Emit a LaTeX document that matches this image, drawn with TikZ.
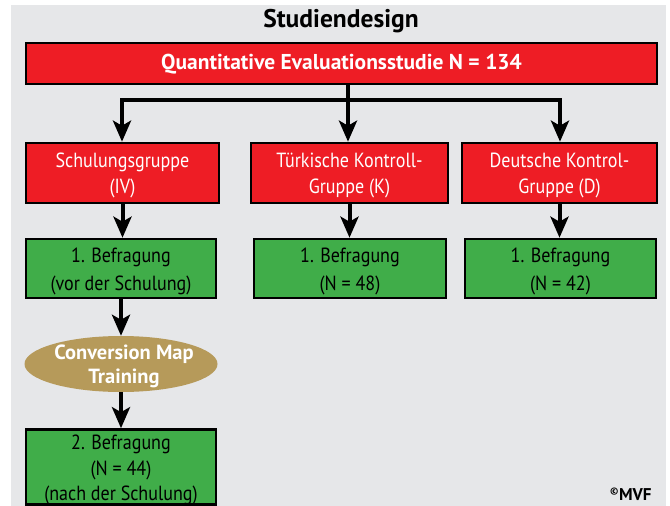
\documentclass[tikz,border=0pt]{standalone}
\usepackage{fontspec}
\setmainfont[FakeStretch=0.88]{PT Sans}
\newfontfamily\bsans{PT Sans}
\usetikzlibrary{arrows.meta,shapes.geometric}
\definecolor{bgray}{HTML}{E6E7E9}
\definecolor{bred}{HTML}{EE1D25}
\definecolor{bgreen}{HTML}{40AD49}
\definecolor{btan}{HTML}{B69A5A}
\tikzset{
  box/.style={draw=black, line width=2.6pt, inner sep=0pt},
  redbox/.style={box, fill=bred},
  greenbox/.style={box, fill=bgreen},
  txt/.style={align=center, inner sep=0pt, font=\fontsize{20.5}{26.5}\selectfont},
  wtxt/.style={txt, text=white},
  btxt/.style={txt, text=black},
  conn/.style={line width=4pt, black},
  arr/.style={conn, -{Stealth[length=21pt,width=18pt,inset=5pt]}}
}
\begin{document}
\begin{tikzpicture}[x=1pt,y=-1pt]
\useasboundingbox (0,0) rectangle (670,506);
\fill[white] (0,0) rectangle (670,506);
\fill[bgray] (11,5) rectangle (666,506);
\node[font=\bsans\bfseries\fontsize{25.5}{28}\selectfont] (title) at (341,21) {Studiendesign};
\node[redbox, minimum width=631pt, minimum height=41pt] (top) at (341.5,63.5) {};
\node[wtxt, font=\bsans\bfseries\fontsize{21.5}{24}\selectfont] (topt) at ([yshift=-1pt]top.center) {Quantitative Evaluationsstudie N = 134};
\node[redbox, minimum width=193pt, minimum height=60pt] (r1) at (122.5,173) {};
\node[wtxt] (r1t) at ([yshift=-2.5pt]r1.center) {Schulungsgruppe\\(IV)};
\node[redbox, minimum width=197pt, minimum height=60pt] (r2) at (349.5,173) {};
\node[wtxt] (r2t) at ([yshift=-2.5pt]r2.center) {Türkische Kontroll-\\Gruppe (K)};
\node[redbox, minimum width=195pt, minimum height=60pt] (r3) at (559.5,173) {};
\node[wtxt] (r3t) at ([yshift=-2.5pt]r3.center) {Deutsche Kontrol-\\Gruppe (D)};
\node[greenbox, minimum width=190pt, minimum height=59pt] (g1) at (121,268.5) {};
\node[btxt, font=\fontsize{20.5}{27.5}\selectfont] (g1t) at ([yshift=-3pt]g1.center) {1. Befragung\\(vor der Schulung)};
\node[greenbox, minimum width=192pt, minimum height=59pt] (g2) at (350,268.5) {};
\node[btxt, font=\fontsize{20.5}{27.5}\selectfont] (g2t) at ([yshift=-3pt]g2.center) {1. Befragung\\(N = 48)};
\node[greenbox, minimum width=191pt, minimum height=59pt] (g3) at (560.5,268.5) {};
\node[btxt, font=\fontsize{20.5}{27.5}\selectfont] (g3t) at ([yshift=-3pt]g3.center) {1. Befragung\\(N = 42)};
\node[ellipse, fill=btan, inner sep=0pt, minimum width=193pt, minimum height=56pt] (e) at (121,364) {};
\node[wtxt, font=\bsans\bfseries\fontsize{20.5}{24}\selectfont] (et) at ([yshift=-2pt,xshift=3pt]e.center) {Conversion Map\\Training};
\node[greenbox, minimum width=190pt, minimum height=75pt] (g4) at (121,467) {};
\node[btxt, font=\fontsize{20.5}{25.5}\selectfont] (g4t) at ([yshift=-3pt]g4.center) {2. Befragung\\(N = 44)\\(nach der Schulung)};
\node[font=\bsans\bfseries\fontsize{17}{18}\selectfont, anchor=east] (mvf) at (655,494) {\textsuperscript{\fontsize{10}{10}\selectfont ©}MVF};
\coordinate (j) at (348,100);
\coordinate (jl) at (122,100);
\coordinate (jr) at (560,100);
\draw[conn] (top.south -| j) -- (j);
\draw[conn] (jl) -- (jr);
\draw[arr] ([yshift=2pt]jl) -- (jl |- r1.north);
\draw[arr] ([yshift=2pt]j) -- (j |- r2.north);
\draw[arr] ([yshift=2pt]jr) -- (jr |- r3.north);
\draw[arr] (r1.south) -- (r1.south |- g1.north);
\draw[arr] (r2.south) -- (r2.south |- g2.north);
\draw[arr] (r3.south) -- (r3.south |- g3.north);
\draw[arr] (g1.south) -- (e.north);
\draw[arr] (e.south) -- (g4.north);
\end{tikzpicture}
\end{document}
